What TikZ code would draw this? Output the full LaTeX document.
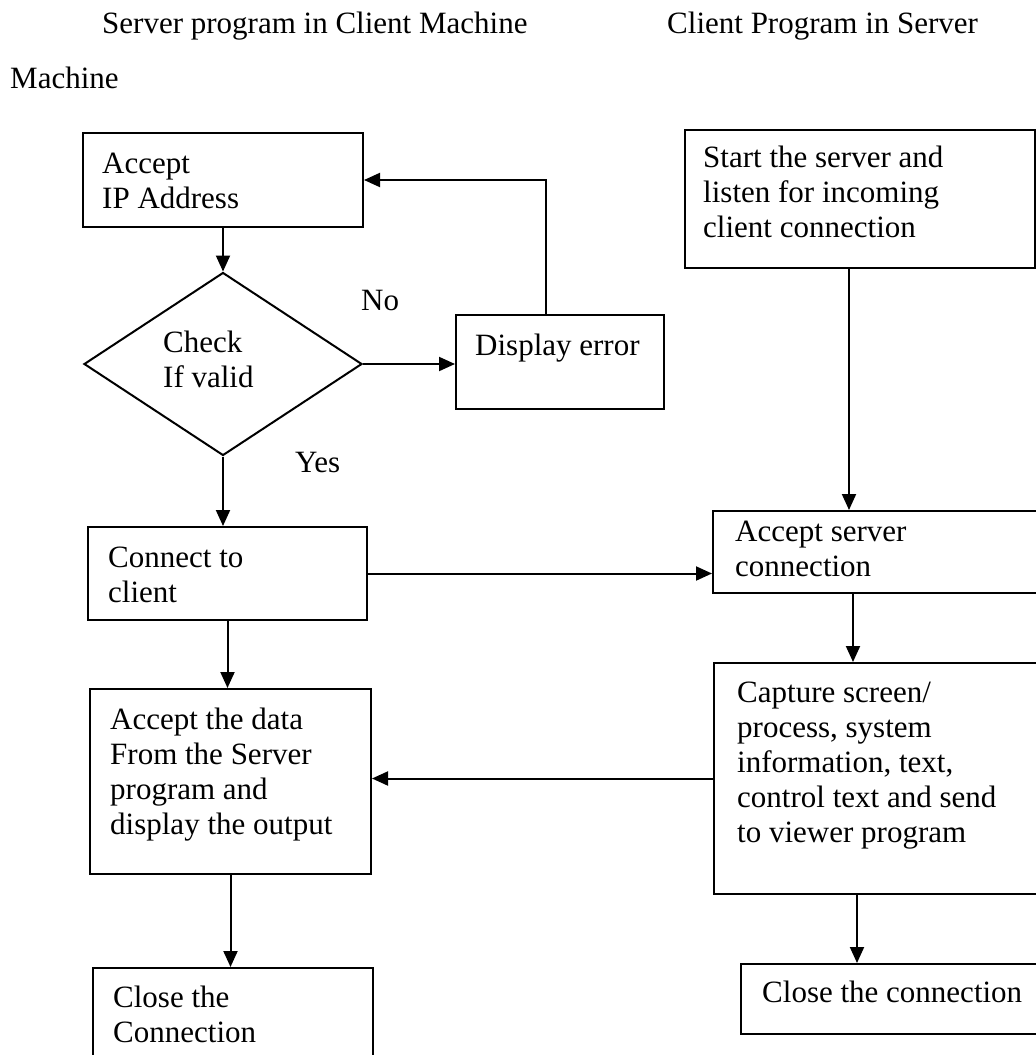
\documentclass[tikz,border=0pt]{standalone}
\usepackage{fontspec}
\setmainfont{Liberation Serif}
\usetikzlibrary{arrows.meta,shapes.geometric}

% several left-aligned lines whose baseline is that of the first line
\newcommand\txtlines[1]{\vtop{\baselineskip=35pt\halign{##\hfil\cr#1\crcr}}}

\tikzset{
  box/.style={draw, line width=2pt, rectangle, inner sep=0pt, anchor=north west},
  decision/.style={draw, line width=2pt, diamond, inner sep=0pt},
  txt/.style={inner sep=0pt, anchor=base west, font=\fontsize{31}{35}\selectfont},
  arr/.style={line width=2pt, -{Triangle[length=16pt,width=14pt]}},
}

\begin{document}
\begin{tikzpicture}[x=1pt, y=-1pt]
\useasboundingbox (0,0) rectangle (1036,1055);
\fill[white] (0,0) rectangle (1036,1055);
\clip (0,0) rectangle (1036,1055);

% headings
\node[txt] (h1) at (102,33) {Server program in Client Machine};
\node[txt] (h2) at (10,88) {Machine};
\node[txt] (h3) at (667,33) {Client Program in Server};

% left column: viewer side
\node[box, minimum width=280pt, minimum height=94pt] (A) at (82,132) {};
\node[txt] (At) at (102,173) {\txtlines{Accept\cr IP Address}};

\node[decision, minimum width=278pt, minimum height=183pt] (D) at (223,364) {};
\node[txt] (Dt) at (163,352) {\txtlines{Check\cr If valid}};

\node[box, minimum width=208pt, minimum height=94pt] (E) at (455,314) {};
\node[txt] (Et) at (475,355) {Display error};

\node[txt] (no) at (361,310) {No};
\node[txt] (yes) at (295,472) {Yes};

\node[box, minimum width=279pt, minimum height=93pt] (N) at (87,526) {};
\node[txt] (Nt) at (108,567) {\txtlines{Connect to\cr client}};

\node[box, minimum width=281pt, minimum height=185pt] (R) at (89,688) {};
\node[txt] (Rt) at (110,729) {\txtlines{Accept the data\cr From the Server\cr program and\cr display the output}};

\node[box, minimum width=280pt, minimum height=150pt] (L) at (92,967) {};
\node[txt] (Lt) at (113,1007) {\txtlines{Close the\cr Connection}};

% right column: server side
\node[box, minimum width=350pt, minimum height=138pt] (S) at (684,129) {};
\node[txt] (St) at (703,167) {\txtlines{Start the server and\cr listen for incoming\cr client connection}};

\node[box, minimum width=400pt, minimum height=82pt] (B) at (712,510) {};
\node[txt] (Bt) at (735,541) {\txtlines{Accept server\cr connection}};

\node[box, minimum width=400pt, minimum height=231pt] (C) at (713,662) {};
\node[txt] (Ct) at (737,702) {\txtlines{Capture screen/\cr process, system\cr information, text,\cr control text and send\cr to viewer program}};

\node[box, minimum width=400pt, minimum height=70pt] (K) at (740,963) {};
\node[txt] (Kt) at (762,1002) {Close the connection};

% vertical runs of the connectors
\coordinate (colE) at (546,0);
\coordinate (colA) at (849,0);
\coordinate (colB) at (853,0);
\coordinate (colC) at (857,0);

% connectors
\draw[arr] (A.south) -- (D.north);
\draw[arr] (D.east) -- (D.east -| E.west);
\draw[arr] (E.north -| colE) |- (A.east);
\draw[arr] (D.south) -- (D.south |- N.north);
\draw[arr] (N.east) -- (N.east -| B.west);
\draw[arr] (S.south -| colA) -- (B.north -| colA);
\draw[arr] (B.south -| colB) -- (C.north -| colB);
\draw[arr] (N.south) -- (N.south |- R.north);
\draw[arr] (R.south) -- (R.south |- L.north);
\draw[arr] (C.west) -- (C.west -| R.east);
\draw[arr] (C.south -| colC) -- (K.north -| colC);
\end{tikzpicture}
\end{document}
